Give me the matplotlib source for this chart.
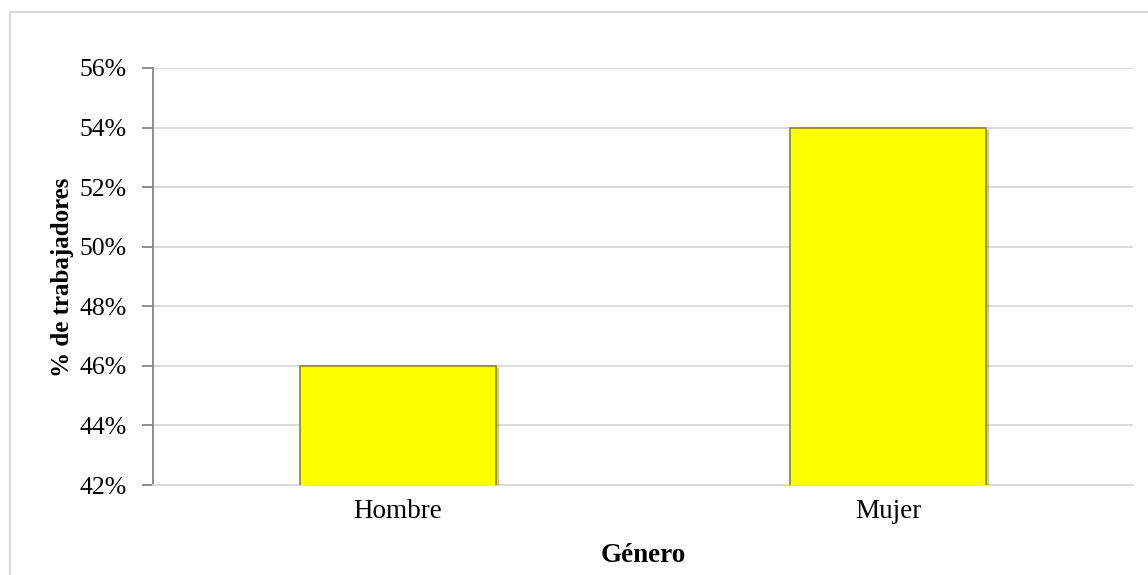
import matplotlib

matplotlib.use("Agg")
import matplotlib.pyplot as plt
from matplotlib import patheffects
from matplotlib.patches import Rectangle
from matplotlib.ticker import FuncFormatter

categories = ["Hombre", "Mujer"]
values = [46, 54]
y_ticks = [42, 44, 46, 48, 50, 52, 54, 56]

BAR_COLOR = "#FFFF00"
EDGE_COLOR = "#8C8C00"
GRID_COLOR = "#D9D9D9"
AXIS_COLOR = "#868686"

plt.rcParams["font.family"] = ["Liberation Serif", "DejaVu Serif"]

fig = plt.figure(figsize=(11.48, 5.75), dpi=100)
fig.patches.append(
    Rectangle((10 / 1148, -0.1), 1.2, 1.1 - 12 / 575, transform=fig.transFigure,
              fill=False, edgecolor="#D9D9D9", linewidth=1.5)
)
ax = fig.add_axes([153 / 1148, 1 - 485 / 575, 980 / 1148, 417 / 575])

bars = ax.bar(range(len(categories)), values, width=0.4, bottom=0,
              color=BAR_COLOR, edgecolor=EDGE_COLOR, linewidth=1.2, zorder=3)
for bar in bars:
    bar.set_path_effects([
        patheffects.SimplePatchShadow(offset=(2.5, -1.5), shadow_rgbFace="#7F7F7F", alpha=0.45),
        patheffects.Normal(),
    ])

ax.set_xlim(-0.5, len(categories) - 0.5)
ax.set_ylim(y_ticks[0], y_ticks[-1])
ax.set_yticks(y_ticks)
ax.yaxis.set_major_formatter(FuncFormatter(lambda v, _p: f"{v:.0f}%"))
ax.set_xticks(range(len(categories)))
ax.set_xticklabels(categories)

ax.grid(True, axis="y", color=GRID_COLOR, linewidth=1.3, zorder=0)
ax.set_axisbelow(True)
for side in ("top", "right"):
    ax.spines[side].set_visible(False)
ax.spines["bottom"].set_color(GRID_COLOR)
ax.spines["bottom"].set_linewidth(1.3)
ax.spines["left"].set_color(AXIS_COLOR)
ax.spines["left"].set_linewidth(1.3)
ax.tick_params(axis="y", length=8, width=1.3, color=AXIS_COLOR, labelsize=18.5, pad=11)
ax.tick_params(axis="x", length=0, labelsize=19.5, pad=10)

fig.text(63 / 1148, 1 - 277 / 575, "% de trabajadores", rotation=90, ha="center", va="center",
         fontsize=18, fontweight="bold")
fig.text(643 / 1148, 1 - 555 / 575, "Género", ha="center", va="center", fontsize=19.5, fontweight="bold")

fig.savefig("out.png", dpi=100)
